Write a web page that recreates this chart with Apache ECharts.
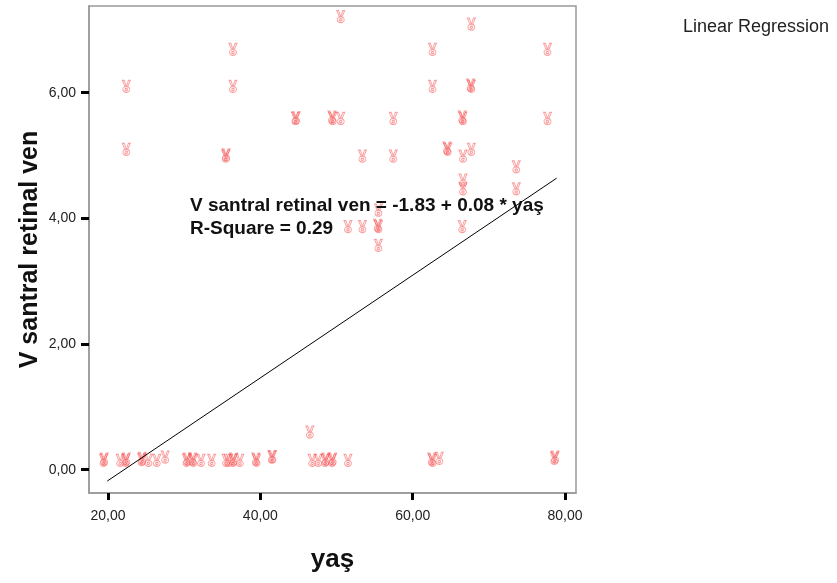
<!DOCTYPE html>
<html>
<head>
<meta charset="utf-8">
<script src="https://cdn.jsdelivr.net/npm/echarts@6/dist/echarts.min.js"></script>
<style>
html,body{margin:0;padding:0;background:#fff;}
#chart{width:837px;height:583px;}
</style>
</head>
<body>
<div id="chart"></div>
<script>
// age (yaş) and V santral retinal ven values
const yas = [
  50.55, 67.7, 36.4, 62.6, 77.7, 22.4, 36.4, 62.6, 67.7, 67.6,
  44.6, 44.7, 49.5, 49.4, 50.55, 57.45, 66.6, 66.5, 77.7, 22.4,
  35.45, 35.5, 53.4, 57.45, 64.6, 64.5, 66.6, 67.7, 73.6, 66.6,
  66.6, 73.6, 55.5, 51.5, 53.4, 55.5, 55.4, 66.5, 55.5, 46.5,
  19.4, 19.5, 21.6, 22.3, 22.4, 24.4, 24.5, 25.3, 26.4, 27.5,
  30.3, 30.4, 31.2, 31.1, 32.2, 33.6, 35.5, 35.8, 36.4, 36.5,
  37.3, 39.5, 39.4, 41.5, 41.6, 46.8, 47.6, 48.5, 48.6, 49.4,
  49.5, 51.5, 62.5, 62.6, 63.5, 78.6, 78.7
];
const ven = [
  7.21, 7.09, 6.69, 6.69, 6.69, 6.10, 6.10, 6.10, 6.10, 6.12,
  5.59, 5.60, 5.59, 5.61, 5.59, 5.59, 5.59, 5.61, 5.59, 5.10,
  4.99, 5.01, 4.99, 4.99, 5.10, 5.12, 4.99, 5.10, 4.82, 4.61,
  4.47, 4.47, 4.13, 3.87, 3.87, 3.87, 3.89, 3.87, 3.57, 0.60,
  0.15, 0.17, 0.15, 0.15, 0.17, 0.16, 0.18, 0.15, 0.15, 0.20,
  0.15, 0.17, 0.15, 0.17, 0.15, 0.15, 0.15, 0.15, 0.15, 0.17,
  0.15, 0.15, 0.17, 0.20, 0.21, 0.15, 0.15, 0.15, 0.17, 0.15,
  0.17, 0.15, 0.17, 0.15, 0.18, 0.18, 0.20
];
// fitted line end points
const fitX = [19.9, 78.9];
const fitY = [-0.18, 4.64];
const xTicks = [20, 40, 60, 80];
const yTicks = [0, 2, 4, 6];

const points = yas.map((x, i) => [x, ven[i]]);
const fitLine = fitX.map((x, i) => [x, fitY[i]]);

const hand = 'path://M1,0 L3,0 L5,7 L3.6,7 Z M7,0 L9,0 L6.4,7 L5,7 Z M5,7 A3.5,3.5 0 1,1 4.99,7 Z M5,9.3 A1.3,1.3 0 1,1 4.99,9.3 Z';

const fmt = v => v.toFixed(2).replace('.', ',');
const font = '"Liberation Sans", Arial, sans-serif';

const chart = echarts.init(document.getElementById('chart'));
chart.setOption({
  animation: false,
  backgroundColor: '#fff',
  grid: {left: 89, top: 6, width: 487, height: 487, show: true, borderColor: '#999', borderWidth: 1.5, backgroundColor: '#fff'},
  xAxis: {
    type: 'value', min: 17.5, max: 81.44,
    name: 'yaş', nameLocation: 'middle', nameGap: 54, nameMoveOverlap: false,
    nameTextStyle: {fontSize: 26, fontWeight: 'bold', color: '#111', fontFamily: font},
    axisLine: {show: true, onZero: false, lineStyle: {color: '#999', width: 1.5}},
    axisTick: {show: true, customValues: xTicks, length: 7, lineStyle: {color: '#000', width: 3}},
    axisLabel: {customValues: xTicks, formatter: fmt, margin: 16, fontSize: 14, color: '#222', fontFamily: font},
    splitLine: {show: false}
  },
  yAxis: {
    type: 'value', min: -0.37, max: 7.38,
    name: 'V santral retinal ven', nameLocation: 'middle', nameGap: 46, nameMoveOverlap: false,
    nameTextStyle: {fontSize: 25, fontWeight: 'bold', color: '#111', fontFamily: font},
    axisLine: {show: true, onZero: false, lineStyle: {color: '#999', width: 1.5}},
    axisTick: {show: true, customValues: yTicks, length: 8, lineStyle: {color: '#000', width: 3}},
    axisLabel: {customValues: yTicks, formatter: fmt, margin: 13, fontSize: 14, color: '#222', fontFamily: font},
    splitLine: {show: false}
  },
  series: [
    {
      type: 'scatter', data: points, symbol: hand, symbolSize: [8, 12],
      itemStyle: {color: 'rgba(255,140,140,0.12)', borderColor: 'rgba(245,60,60,0.6)', borderWidth: 1},
      z: 2
    },
    {
      type: 'line', data: fitLine, symbol: 'none', showSymbol: false,
      lineStyle: {color: '#000', width: 1}, z: 3
    }
  ],
  graphic: [
    {type: 'text', x: 190, y: 206, z: 10,
     style: {text: 'V santral retinal ven = -1.83 + 0.08 * yaş', verticalAlign: 'middle', font: 'bold 19px "Liberation Sans", Arial, sans-serif', fill: '#111'}},
    {type: 'text', x: 190, y: 229, z: 10,
     style: {text: 'R-Square = 0.29', verticalAlign: 'middle', font: 'bold 19px "Liberation Sans", Arial, sans-serif', fill: '#111'}},
    {type: 'text', x: 683, y: 27, z: 10,
     style: {text: 'Linear Regression', verticalAlign: 'middle', font: '18px "Liberation Sans", Arial, sans-serif', fill: '#222'}}
  ]
});
</script>
</body>
</html>
